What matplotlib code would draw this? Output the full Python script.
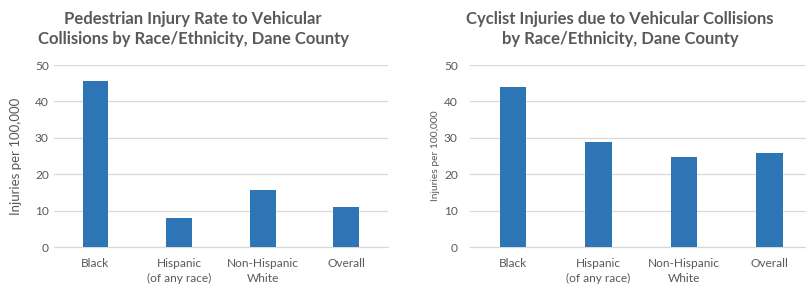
import matplotlib
matplotlib.use("Agg")
import matplotlib.pyplot as plt

categories = ["Black", "Hispanic\n(of any race)", "Non-Hispanic\nWhite", "Overall"]
pedestrian_rates = [45.7, 8.1, 15.6, 10.9]
cyclist_rates = [44.0, 28.9, 24.7, 25.9]
yticks = [0, 10, 20, 30, 40, 50]
titles = ["Pedestrian Injury Rate to Vehicular\nCollisions by Race/Ethnicity, Dane County",
          "Cyclist Injuries due to Vehicular Collisions\nby Race/Ethnicity, Dane County"]
ylabel = "Injuries per 100,000"

plt.rcParams['font.family'] = ['Lato', 'DejaVu Sans']
TXT = "#595959"
BAR = "#2E75B6"
GRID = "#D9D9D9"

W, H = 806, 290
fig = plt.figure(figsize=(W/100, H/100), dpi=100)

def px(x0, y0, x1, y1):
    return [x0/W, 1 - y1/H, (x1-x0)/W, (y1-y0)/H]

specs = [
    dict(rect=px(53.7, 65, 388, 247), vals=pedestrian_rates, title=titles[0],
         tx=193, ylab_size=9.5, ypad=3.5, ylx=15.7),
    dict(rect=px(470.3, 65, 812, 247), vals=cyclist_rates, title=titles[1],
         tx=620, ylab_size=7.4, ypad=9, ylx=436),
]

for s in specs:
    ax = fig.add_axes(s["rect"])
    x = range(len(categories))
    ax.bar(x, s["vals"], width=0.31, color=BAR, zorder=3)
    ax.set_xlim(-0.5, len(categories) - 0.5)
    ax.set_ylim(0, 50)
    ax.set_yticks(yticks)
    ax.set_xticks(list(x))
    ax.set_xticklabels(categories, linespacing=1.4)
    ax.grid(axis='y', color=GRID, linewidth=0.9, zorder=0)
    for sp in ["top", "right", "left"]:
        ax.spines[sp].set_visible(False)
    ax.spines["bottom"].set_color(GRID)
    ax.spines["bottom"].set_linewidth(0.9)
    ax.tick_params(axis='both', length=0, colors=TXT, labelsize=8.6)
    ax.tick_params(axis='y', pad=s["ypad"])
    ax.tick_params(axis='x', pad=8)
    fig.text(s["ylx"]/W, 1 - 156/H, ylabel, rotation=90, ha='center', va='center',
             color=TXT, fontsize=s["ylab_size"])
    fig.text(s["tx"]/W, 1 - 28.7/H, s["title"], ha='center', va='center',
             color=TXT, fontsize=12, fontweight='bold', linespacing=1.33)

fig.savefig("out.png", dpi=100, facecolor="white")
